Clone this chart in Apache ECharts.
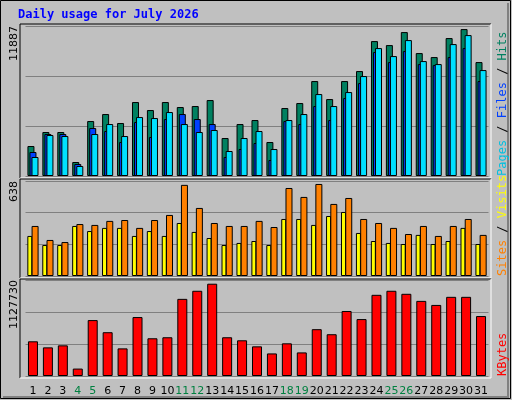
<!DOCTYPE html>
<html><head><meta charset="utf-8">
<script src="https://cdn.jsdelivr.net/npm/echarts@6/dist/echarts.min.js"></script>
<style>html,body{margin:0;padding:0;background:#c0c0c0}#c{width:512px;height:400px}</style>
</head><body><div id="c"></div>
<script>
const days = Array.from({length:31},(_, i)=>String(i+1));
const weekend = ['4','5','11','12','18','19','25','26'];
const hits = [2376,3485,3485,1109,4356,4910,4198,5861,5227,5861,5465,5544,6019,3010,4118,4435,2693,5386,5782,7524,6098,7524,8316,10692,10375,11405,9742,9425,10930,11642,9029];
const files = [1505,3247,3168,792,3326,4118,3168,4673,4594,5069,4118,3485,3643,1980,3010,3564,2138,4435,4910,6494,5544,6653,7920,10138,9504,10771,9108,8870,10454,11167,8395];
const pages = [1901,3326,3326,950,3802,3564,2693,4277,3089,4514,4910,4514,4118,1505,2138,2614,1267,4356,4118,5544,4435,6178,7366,9821,9029,9900,8870,8791,9425,10138,7524];
const visits = [336,242,228,349,343,370,376,323,376,410,612,457,356,336,336,370,329,591,531,618,484,524,383,356,323,282,336,269,336,383,276];
const sites = [269,208,208,336,302,323,323,269,302,269,356,296,255,208,222,235,208,383,383,343,403,430,289,235,222,215,276,215,235,323,215];
const kbytes = [407571,336345,360087,87054,656862,514410,324474,692475,443184,455055,906153,1001121,1084218,455055,419442,348216,265119,383829,276990,550023,490668,763701,668733,953637,1001121,965508,882411,834927,929895,929895,704346];
const maxHits = 11887, maxVisits = 638, maxKB = 1127730;

const chart = echarts.init(document.getElementById('c'));
const L = 25.5, R = 23.5;
const panels = [[26,150],[181,95],[280,96]];
const grids = panels.map(p=>({left:L,right:R,top:p[0],height:p[1]}));
const maxes = [maxHits, maxVisits, maxKB];
const yAxes = maxes.map((m,i)=>({gridIndex:i,min:0,max:m,interval:m/3,
  axisLine:{show:false},axisTick:{show:false},
  splitLine:{lineStyle:{color:'#808080',width:1}},
  axisLabel:{rotate:90,align:'right',margin:6,fontFamily:'DejaVu Sans',fontSize:11,color:'#000',
    formatter:v=>Math.abs(v-m)<1e-6?String(m):''}}));
const xAxes = [0,1,2].map(i=>({type:'category',gridIndex:i,data:days,
  axisLine:{show:false},axisTick:{show:false},
  axisLabel:i===2?{fontFamily:'DejaVu Sans',fontSize:11,margin:10,interval:0,
    color:v=>weekend.includes(v)?'#008040':'#000'}:{show:false}}));
const bs = {borderColor:'#000',borderWidth:1};
function frame(y,h){
  return [
    {type:'rect',z:-5,shape:{x:20,y:y,width:471,height:h},style:{fill:'#c0c0c0',stroke:null}},
    {type:'polyline',z:50,shape:{points:[[20,y+h],[20,y],[491,y]]},style:{stroke:'#000',lineWidth:1,fill:null}},
    {type:'polyline',z:50,shape:{points:[[491,y],[491,y+h],[20,y+h]]},style:{stroke:'#fff',lineWidth:1,fill:null}}
  ];
}
chart.setOption({
  backgroundColor:'#c0c0c0',
  animation:false,
  grid:grids, xAxis:xAxes, yAxis:yAxes,
  series:[
    {type:'bar',xAxisIndex:0,yAxisIndex:0,data:hits,barWidth:7,barGap:'-71%',itemStyle:Object.assign({color:'#008060'},bs)},
    {type:'bar',xAxisIndex:0,yAxisIndex:0,data:pages,barWidth:7,barGap:'-71%',itemStyle:Object.assign({color:'#0040ff'},bs)},
    {type:'bar',xAxisIndex:0,yAxisIndex:0,data:files,barWidth:7,barGap:'-71%',itemStyle:Object.assign({color:'#00e0ff'},bs)},
    {type:'bar',xAxisIndex:1,yAxisIndex:1,data:sites,barWidth:5,barGap:'-15%',itemStyle:Object.assign({color:'#ffff00'},bs)},
    {type:'bar',xAxisIndex:1,yAxisIndex:1,data:visits,barWidth:7,barGap:'-15%',itemStyle:Object.assign({color:'#ff8000'},bs)},
    {type:'bar',xAxisIndex:2,yAxisIndex:2,data:kbytes,barWidth:10,itemStyle:Object.assign({color:'#ff0000'},bs)}
  ],
  graphic:[
    {type:'rect',z:-10,shape:{x:0.5,y:0.5,width:510,height:398},style:{fill:null,stroke:'#000',lineWidth:1}},
    {type:'polyline',z:-9,shape:{points:[[3,397],[508,397],[508,3]]},style:{stroke:'#808080',lineWidth:2,fill:null}},
    ...frame(24,154), ...frame(179,99), ...frame(279,99),
    {type:'text',x:18,y:9,style:{text:'Daily usage for July 2026',fill:'#0000ff',font:'bold 12px "DejaVu Sans Mono"'}},
    {type:'text',x:497,y:176,rotation:Math.PI/2,style:{font:'12px "DejaVu Sans Mono"',
      text:'{p|Pages} {s|/} {f|Files} {s|/} {h|Hits}',
      rich:{p:{fill:'#00c0e0',font:'12px "DejaVu Sans Mono"'},f:{fill:'#0040ff',font:'12px "DejaVu Sans Mono"'},h:{fill:'#008060',font:'12px "DejaVu Sans Mono"'},s:{fill:'#000',font:'12px "DejaVu Sans Mono"'}}}},
    {type:'text',x:497,y:276,rotation:Math.PI/2,style:{font:'12px "DejaVu Sans Mono"',
      text:'{a|Sites} {s|/} {b|Visits}',
      rich:{a:{fill:'#ff8000',font:'12px "DejaVu Sans Mono"'},b:{fill:'#ffff00',font:'12px "DejaVu Sans Mono"'},s:{fill:'#000',font:'12px "DejaVu Sans Mono"'}}}},
    {type:'text',x:497,y:376,rotation:Math.PI/2,style:{text:'KBytes',fill:'#ff0000',font:'12px "DejaVu Sans Mono"'}}
  ]
});
</script></body></html>
